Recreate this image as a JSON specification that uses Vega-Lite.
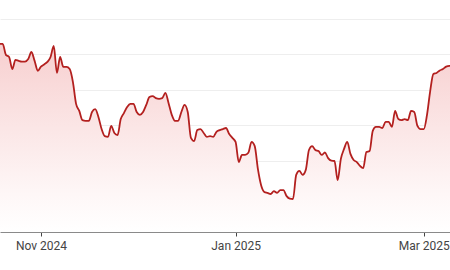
{
  "$schema": "https://vega.github.io/schema/vega-lite/v6.json",
  "width": 450,
  "height": 232,
  "padding": {"left": 0, "top": 0, "right": 0, "bottom": 38},
  "autosize": "none",
  "background": "white",
  "config": {"view": {"stroke": null}, "font": "Roboto"},
  "data": {"values": [
    {"date": "2024-10-19", "price": 153.0},
    {"date": "2024-10-20", "price": 153.0},
    {"date": "2024-10-21", "price": 149.9},
    {"date": "2024-10-22", "price": 149.3},
    {"date": "2024-10-23", "price": 145.9},
    {"date": "2024-10-24", "price": 148.5},
    {"date": "2024-10-25", "price": 148.2},
    {"date": "2024-10-26", "price": 148.0},
    {"date": "2024-10-27", "price": 148.0},
    {"date": "2024-10-28", "price": 148.7},
    {"date": "2024-10-29", "price": 150.7},
    {"date": "2024-10-30", "price": 148.2},
    {"date": "2024-10-31", "price": 145.4},
    {"date": "2024-11-01", "price": 146.6},
    {"date": "2024-11-02", "price": 147.2},
    {"date": "2024-11-03", "price": 147.9},
    {"date": "2024-11-04", "price": 149.3},
    {"date": "2024-11-05", "price": 152.4},
    {"date": "2024-11-06", "price": 144.8},
    {"date": "2024-11-07", "price": 149.3},
    {"date": "2024-11-08", "price": 146.5},
    {"date": "2024-11-09", "price": 146.5},
    {"date": "2024-11-10", "price": 145.9},
    {"date": "2024-11-11", "price": 142.3},
    {"date": "2024-11-12", "price": 136.1},
    {"date": "2024-11-13", "price": 134.1},
    {"date": "2024-11-14", "price": 131.5},
    {"date": "2024-11-15", "price": 131.3},
    {"date": "2024-11-16", "price": 131.3},
    {"date": "2024-11-17", "price": 133.8},
    {"date": "2024-11-18", "price": 134.6},
    {"date": "2024-11-19", "price": 132.4},
    {"date": "2024-11-20", "price": 129.0},
    {"date": "2024-11-21", "price": 127.0},
    {"date": "2024-11-22", "price": 126.8},
    {"date": "2024-11-23", "price": 129.9},
    {"date": "2024-11-24", "price": 127.9},
    {"date": "2024-11-25", "price": 127.3},
    {"date": "2024-11-26", "price": 131.8},
    {"date": "2024-11-27", "price": 133.5},
    {"date": "2024-11-28", "price": 135.2},
    {"date": "2024-11-29", "price": 136.1},
    {"date": "2024-11-30", "price": 136.1},
    {"date": "2024-12-01", "price": 133.8},
    {"date": "2024-12-02", "price": 133.0},
    {"date": "2024-12-03", "price": 133.8},
    {"date": "2024-12-04", "price": 135.8},
    {"date": "2024-12-05", "price": 138.0},
    {"date": "2024-12-06", "price": 138.3},
    {"date": "2024-12-07", "price": 137.7},
    {"date": "2024-12-08", "price": 137.5},
    {"date": "2024-12-09", "price": 137.7},
    {"date": "2024-12-10", "price": 139.2},
    {"date": "2024-12-11", "price": 136.3},
    {"date": "2024-12-12", "price": 133.0},
    {"date": "2024-12-13", "price": 131.3},
    {"date": "2024-12-14", "price": 131.3},
    {"date": "2024-12-15", "price": 133.8},
    {"date": "2024-12-16", "price": 135.8},
    {"date": "2024-12-17", "price": 133.8},
    {"date": "2024-12-18", "price": 126.5},
    {"date": "2024-12-19", "price": 125.6},
    {"date": "2024-12-20", "price": 128.7},
    {"date": "2024-12-21", "price": 129.0},
    {"date": "2024-12-22", "price": 127.9},
    {"date": "2024-12-23", "price": 126.8},
    {"date": "2024-12-24", "price": 127.0},
    {"date": "2024-12-25", "price": 126.8},
    {"date": "2024-12-26", "price": 128.2},
    {"date": "2024-12-27", "price": 128.7},
    {"date": "2024-12-28", "price": 129.0},
    {"date": "2024-12-29", "price": 129.3},
    {"date": "2024-12-30", "price": 127.6},
    {"date": "2024-12-31", "price": 126.5},
    {"date": "2025-01-01", "price": 125.4},
    {"date": "2025-01-02", "price": 119.7},
    {"date": "2025-01-03", "price": 121.7},
    {"date": "2025-01-04", "price": 121.7},
    {"date": "2025-01-05", "price": 122.3},
    {"date": "2025-01-06", "price": 125.4},
    {"date": "2025-01-07", "price": 124.2},
    {"date": "2025-01-08", "price": 117.7},
    {"date": "2025-01-09", "price": 113.2},
    {"date": "2025-01-10", "price": 111.3},
    {"date": "2025-01-11", "price": 111.0},
    {"date": "2025-01-12", "price": 110.7},
    {"date": "2025-01-13", "price": 111.5},
    {"date": "2025-01-14", "price": 111.0},
    {"date": "2025-01-15", "price": 111.8},
    {"date": "2025-01-16", "price": 111.8},
    {"date": "2025-01-17", "price": 110.1},
    {"date": "2025-01-18", "price": 109.4},
    {"date": "2025-01-19", "price": 109.3},
    {"date": "2025-01-20", "price": 116.1},
    {"date": "2025-01-21", "price": 117.2},
    {"date": "2025-01-22", "price": 116.1},
    {"date": "2025-01-23", "price": 117.5},
    {"date": "2025-01-24", "price": 123.1},
    {"date": "2025-01-25", "price": 124.2},
    {"date": "2025-01-26", "price": 123.1},
    {"date": "2025-01-27", "price": 122.8},
    {"date": "2025-01-28", "price": 121.7},
    {"date": "2025-01-29", "price": 122.4},
    {"date": "2025-01-30", "price": 120.8},
    {"date": "2025-01-31", "price": 120.1},
    {"date": "2025-02-01", "price": 120.0},
    {"date": "2025-02-02", "price": 114.6},
    {"date": "2025-02-03", "price": 120.6},
    {"date": "2025-02-04", "price": 123.4},
    {"date": "2025-02-05", "price": 125.4},
    {"date": "2025-02-06", "price": 122.0},
    {"date": "2025-02-07", "price": 120.3},
    {"date": "2025-02-08", "price": 119.7},
    {"date": "2025-02-09", "price": 118.6},
    {"date": "2025-02-10", "price": 118.0},
    {"date": "2025-02-11", "price": 122.5},
    {"date": "2025-02-12", "price": 122.8},
    {"date": "2025-02-13", "price": 128.5},
    {"date": "2025-02-14", "price": 129.6},
    {"date": "2025-02-15", "price": 129.6},
    {"date": "2025-02-16", "price": 129.3},
    {"date": "2025-02-17", "price": 131.0},
    {"date": "2025-02-18", "price": 131.0},
    {"date": "2025-02-19", "price": 129.6},
    {"date": "2025-02-20", "price": 134.1},
    {"date": "2025-02-21", "price": 131.8},
    {"date": "2025-02-22", "price": 131.5},
    {"date": "2025-02-23", "price": 131.8},
    {"date": "2025-02-24", "price": 131.5},
    {"date": "2025-02-25", "price": 134.1},
    {"date": "2025-02-26", "price": 133.8},
    {"date": "2025-02-27", "price": 129.9},
    {"date": "2025-02-28", "price": 129.0},
    {"date": "2025-03-01", "price": 129.0},
    {"date": "2025-03-02", "price": 133.0},
    {"date": "2025-03-03", "price": 139.7},
    {"date": "2025-03-04", "price": 144.5},
    {"date": "2025-03-05", "price": 144.8},
    {"date": "2025-03-06", "price": 145.5},
    {"date": "2025-03-07", "price": 145.9},
    {"date": "2025-03-08", "price": 146.6},
    {"date": "2025-03-09", "price": 146.8},
    {"date": "2025-03-10", "price": 146.8}
  ]},
  "encoding": {
    "x": {
      "field": "date",
      "type": "temporal",
      "title": null,
      "scale": {"domain": ["2024-10-19T03:40:00Z", "2025-03-09T05:00:00Z"]},
      "axis": {
        "format": "%b %Y",
        "tickCount": {"interval": "month", "step": 2},
        "grid": false,
        "domainColor": "#8a8a8a",
        "domainWidth": 1,
        "tickColor": "#444444",
        "tickSize": 4,
        "tickWidth": 1,
        "labelColor": "#444444",
        "labelFontSize": 12,
        "labelPadding": 4,
        "labelFlush": false,
        "zindex": 1
      }
    },
    "y": {
      "field": "price",
      "type": "quantitative",
      "title": null,
      "scale": {"domain": [100, 165.35], "nice": false, "zero": false},
      "axis": {
        "values": [110, 120, 130, 140, 150, 160],
        "labels": false,
        "ticks": false,
        "domain": false,
        "grid": true,
        "gridColor": "#eeeeee",
        "gridWidth": 1
      }
    }
  },
  "layer": [
    {
      "mark": {
        "type": "area",
        "interpolate": "monotone",
        "fill": {
          "gradient": "linear",
          "x1": 0, "y1": 0, "x2": 0, "y2": 1,
          "stops": [
            {"offset": 0, "color": "#f7cfcf"},
            {"offset": 0.45, "color": "#fbe6e6"},
            {"offset": 0.8, "color": "#fef7f7"},
            {"offset": 1, "color": "#ffffff"}
          ]
        }
      },
      "encoding": {"y2": {"datum": 100}}
    },
    {
      "mark": {
        "type": "line",
        "interpolate": "monotone",
        "color": "#b3201f",
        "strokeWidth": 1.8
      }
    }
  ]
}
